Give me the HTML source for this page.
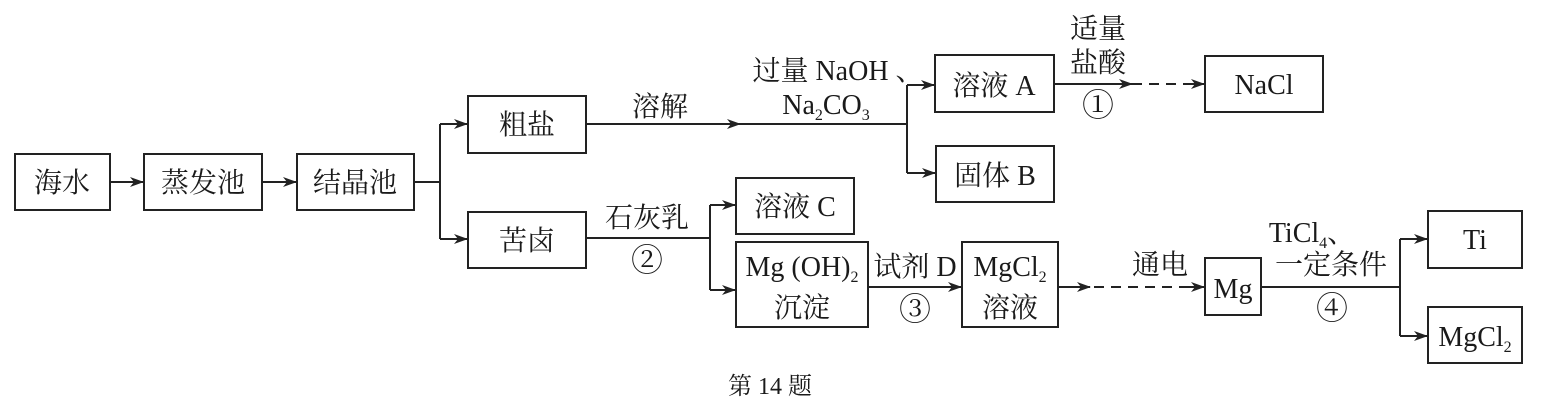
<!DOCTYPE html>
<html><head><meta charset="utf-8"><style>
body{margin:0;background:#fff}
svg{display:block}
text{font-family:"Liberation Serif","Noto Serif CJK SC",serif;fill:#1a1a1a}
</style></head><body>
<svg width="1553" height="403" viewBox="0 0 1553 403">
<defs><marker id="a" markerWidth="14" markerHeight="10" refX="13" refY="5" orient="auto" markerUnits="userSpaceOnUse"><path d="M0,0 L14,5 L0,10 L4,5 Z" fill="#222"/></marker></defs>
<g fill="none" stroke="#222" stroke-width="2">
<rect x="15" y="154" width="95" height="56"/>
<rect x="144" y="154" width="118" height="56"/>
<rect x="297" y="154" width="117" height="56"/>
<rect x="468" y="96" width="118" height="57"/>
<rect x="468" y="212" width="118" height="56"/>
<rect x="935" y="55" width="119" height="57"/>
<rect x="936" y="146" width="118" height="56"/>
<rect x="1205" y="56" width="118" height="56"/>
<rect x="736" y="178" width="118" height="56"/>
<rect x="736" y="242" width="132" height="85"/>
<rect x="962" y="242" width="96" height="85"/>
<rect x="1205" y="258" width="56" height="57"/>
<rect x="1428" y="211" width="94" height="57"/>
<rect x="1428" y="307" width="94" height="56"/>
<line x1="110" y1="182" x2="143" y2="182" marker-end="url(#a)"/>
<line x1="262" y1="182" x2="296" y2="182" marker-end="url(#a)"/>
<path d="M414,182 H440 V124"/>
<line x1="440" y1="124" x2="467" y2="124" marker-end="url(#a)"/>
<path d="M440,182 V239"/>
<line x1="440" y1="239" x2="467" y2="239" marker-end="url(#a)"/>
<line x1="586" y1="124" x2="740" y2="124" marker-end="url(#a)"/>
<path d="M738,124 H907 V85"/>
<line x1="907" y1="85" x2="934" y2="85" marker-end="url(#a)"/>
<path d="M907,124 V173"/>
<line x1="907" y1="173" x2="935" y2="173" marker-end="url(#a)"/>
<line x1="1054" y1="84" x2="1132" y2="84" marker-end="url(#a)"/>
<line x1="1132" y1="84" x2="1192" y2="84" stroke-dasharray="10,7"/>
<line x1="1190" y1="84" x2="1204" y2="84" marker-end="url(#a)"/>
<path d="M586,238 H710 V205"/>
<path d="M710,238 V290"/>
<line x1="710" y1="205" x2="735" y2="205" marker-end="url(#a)"/>
<line x1="710" y1="290" x2="735" y2="290" marker-end="url(#a)"/>
<line x1="868" y1="287" x2="961" y2="287" marker-end="url(#a)"/>
<line x1="1058" y1="287" x2="1090" y2="287" marker-end="url(#a)"/>
<line x1="1094" y1="287" x2="1192" y2="287" stroke-dasharray="10,7"/>
<line x1="1188" y1="287" x2="1204" y2="287" marker-end="url(#a)"/>
<path d="M1261,287 H1400 V239"/>
<line x1="1400" y1="239" x2="1427" y2="239" marker-end="url(#a)"/>
<path d="M1400,287 V336"/>
<line x1="1400" y1="336" x2="1427" y2="336" marker-end="url(#a)"/>
</g>
<g font-size="28" text-anchor="middle">
<text x="62" y="192">海水</text>
<text x="203" y="192">蒸发池</text>
<text x="355" y="192">结晶池</text>
<text x="527" y="134">粗盐</text>
<text x="527" y="250">苦卤</text>
<text x="994" y="95">溶液 A</text>
<text x="995" y="185">固体 B</text>
<text x="1264" y="94">NaCl</text>
<text x="795" y="216">溶液 C</text>
<text x="802" y="276">Mg (OH)<tspan font-size="16" dy="6">2</tspan></text>
<text x="802" y="317">沉淀</text>
<text x="1010" y="276">MgCl<tspan font-size="16" dy="6">2</tspan></text>
<text x="1010" y="317">溶液</text>
<text x="1233" y="298">Mg</text>
<text x="1475" y="249">Ti</text>
<text x="1475" y="346">MgCl<tspan font-size="16" dy="6">2</tspan></text>
<text x="660" y="116">溶解</text>
<text x="838" y="80">过量 NaOH 、</text>
<text x="826" y="114">Na<tspan font-size="16" dy="6">2</tspan><tspan dy="-6">CO</tspan><tspan font-size="16" dy="6">3</tspan></text>
<text x="1098" y="38">适量</text>
<text x="1098" y="72">盐酸</text>
<text x="1098" y="116" font-size="32">①</text>
<text x="647" y="227">石灰乳</text>
<text x="647" y="271" font-size="32">②</text>
<text x="915" y="276">试剂 D</text>
<text x="915" y="320" font-size="32">③</text>
<text x="1160" y="274">通电</text>
<text x="1312" y="242">TiCl<tspan font-size="16" dy="6">4</tspan><tspan dy="-6">、</tspan></text>
<text x="1331" y="274">一定条件</text>
<text x="1332" y="319" font-size="32">④</text>
</g>
<text x="770" y="394" font-size="24" text-anchor="middle">第 14 题</text>
</svg>
</body></html>
